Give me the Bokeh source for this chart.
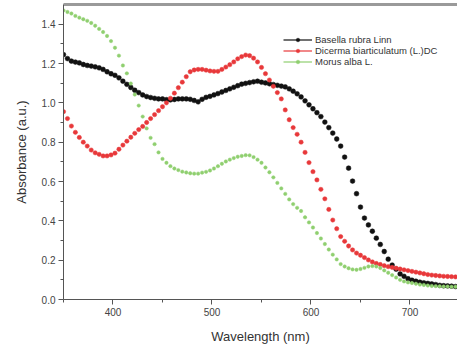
from bokeh.plotting import figure
from bokeh.models import (ColumnDataSource, Legend, LegendItem, LinearAxis, Range1d,
                          FixedTicker, CustomJSTickFormatter)
from bokeh.embed import file_html
from bokeh.resources import INLINE

wavelength = list(range(350, 751, 4))

basella = [1.245, 1.225, 1.212, 1.207, 1.203, 1.195, 1.19, 1.187, 1.183, 1.178,
           1.17, 1.158, 1.148, 1.14, 1.127, 1.11, 1.094, 1.078, 1.064, 1.052,
           1.04, 1.032, 1.027, 1.023, 1.02, 1.02, 1.016, 1.015, 1.017, 1.02,
           1.02, 1.02, 1.018, 1.012, 1.005, 1.018, 1.028, 1.033, 1.04, 1.047,
           1.055, 1.063, 1.071, 1.079, 1.087, 1.095, 1.099, 1.103, 1.107, 1.11,
           1.105, 1.101, 1.097, 1.093, 1.089, 1.085, 1.081, 1.071, 1.059, 1.046,
           1.03, 1.01, 0.99, 0.97, 0.95, 0.93, 0.902, 0.874, 0.846, 0.816,
           0.78, 0.724, 0.668, 0.602, 0.538, 0.47, 0.414, 0.379, 0.347, 0.312,
           0.28, 0.244, 0.205, 0.175, 0.154, 0.13, 0.118, 0.106, 0.098, 0.093,
           0.088, 0.085, 0.082, 0.079, 0.076, 0.072, 0.07, 0.069, 0.068, 0.066,
           0.065]

dicerma = [0.955, 0.92, 0.882, 0.85, 0.824, 0.80, 0.78, 0.76, 0.746, 0.738,
           0.73, 0.73, 0.735, 0.744, 0.764, 0.785, 0.805, 0.825, 0.845, 0.864,
           0.88, 0.90, 0.92, 0.94, 0.96, 0.98, 1.0, 1.023, 1.049, 1.077,
           1.105, 1.133, 1.158, 1.167, 1.17, 1.17, 1.166, 1.162, 1.16, 1.16,
           1.17, 1.182, 1.194, 1.208, 1.224, 1.235, 1.243, 1.24, 1.227, 1.208,
           1.18, 1.148, 1.116, 1.084, 1.052, 1.02, 0.964, 0.914, 0.874, 0.84,
           0.80, 0.748, 0.696, 0.65, 0.608, 0.56, 0.512, 0.458, 0.404, 0.36,
           0.32, 0.296, 0.272, 0.252, 0.236, 0.225, 0.213, 0.201, 0.191, 0.183,
           0.178, 0.172, 0.167, 0.163, 0.159, 0.155, 0.151, 0.147, 0.143, 0.139,
           0.135, 0.131, 0.127, 0.124, 0.122, 0.12, 0.118, 0.117, 0.116, 0.115,
           0.114]

morus = [1.47, 1.462, 1.454, 1.442, 1.433, 1.425, 1.417, 1.406, 1.392, 1.376,
         1.36, 1.34, 1.314, 1.28, 1.24, 1.19, 1.15, 1.098, 1.042, 0.986,
         0.93, 0.87, 0.822, 0.79, 0.748, 0.715, 0.695, 0.678, 0.666, 0.658,
         0.65, 0.646, 0.642, 0.64, 0.64, 0.645, 0.649, 0.656, 0.666, 0.678,
         0.69, 0.702, 0.711, 0.719, 0.726, 0.73, 0.734, 0.733, 0.724, 0.711,
         0.695, 0.671, 0.647, 0.621, 0.593, 0.565, 0.537, 0.509, 0.485, 0.466,
         0.45, 0.418, 0.392, 0.366, 0.338, 0.31, 0.282, 0.254, 0.228, 0.204,
         0.18, 0.168, 0.159, 0.153, 0.151, 0.155, 0.161, 0.168, 0.17, 0.168,
         0.16, 0.148, 0.136, 0.124, 0.112, 0.1, 0.092, 0.087, 0.084, 0.08,
         0.076, 0.074, 0.071, 0.069, 0.068, 0.067, 0.066, 0.066, 0.065, 0.065,
         0.065]

names = ["Basella rubra Linn", "Dicerma biarticulatum (L.)DC", "Morus alba L."]
colors = ["#111111", "#e8383a", "#8fcf6f"]
sizes = [4.8, 4.3, 3.4]
x_ticks = [400, 500, 600, 700]
x_minor = [350, 450, 550, 650, 750]
y_ticks = [0.0, 0.2, 0.4, 0.6, 0.8, 1.0, 1.2, 1.4]
y_minor = [0.1, 0.3, 0.5, 0.7, 0.9, 1.1, 1.3]

FONT = "Liberation Sans"
TXT = "#444444"

p = figure(width=457, height=346, output_backend="svg", toolbar_location=None,
           x_range=Range1d(350, 748), y_range=Range1d(0, 1.5),
           min_border_left=63, min_border_right=0, min_border_top=4, min_border_bottom=45)
p.outline_line_color = None
p.grid.visible = False
p.background_fill_color = "white"

for ax in (p.xaxis[0], p.yaxis[0]):
    ax.axis_line_color = "#555555"
    ax.major_tick_line_color = "#555555"
    ax.minor_tick_line_color = "#555555"
    ax.major_tick_out = 5
    ax.major_tick_in = 0
    ax.minor_tick_out = 3
    ax.minor_tick_in = 0
    ax.major_label_text_font = FONT
    ax.major_label_text_font_size = "10px"
    ax.major_label_text_color = TXT
    ax.axis_label_text_font = FONT
    ax.axis_label_text_font_size = "13px"
    ax.axis_label_text_font_style = "normal"
    ax.axis_label_text_color = "#333333"

p.xaxis.ticker = FixedTicker(ticks=x_ticks, minor_ticks=x_minor)
p.yaxis.ticker = FixedTicker(ticks=y_ticks, minor_ticks=y_minor)
p.yaxis.formatter = CustomJSTickFormatter(code="return tick.toFixed(1);")
p.xaxis.axis_label = "Wavelength (nm)"
p.yaxis.axis_label = "Absorbance (a.u.)"
p.xaxis.axis_label_standoff = 10
p.yaxis.axis_label_standoff = 10
p.xaxis.major_label_standoff = 3
p.yaxis.major_label_standoff = 3

top = LinearAxis(ticker=FixedTicker(ticks=[]), major_label_text_font_size="0px",
                 axis_line_color="#9a9a9a", axis_line_width=3,
                 major_tick_line_color=None, minor_tick_line_color=None)
p.add_layout(top, "above")

nan = float("nan")
items = []
for ys, name, c, s in zip([basella, dicerma, morus], names, colors, sizes):
    src = ColumnDataSource(dict(x=wavelength, y=ys))
    r = p.scatter("x", "y", source=src, size=s, fill_color=c, line_color=c, line_alpha=0.5)
    dummy = p.line(x=[nan, nan], y=[nan, nan], line_color=c, line_width=1.2)
    items.append(LegendItem(label=name, renderers=[dummy, r]))

legend = Legend(items=items, location=(220, 232))
legend.background_fill_alpha = 0
legend.border_line_color = None
legend.label_text_font = FONT
legend.label_text_font_size = "9.5px"
legend.label_text_color = "#333333"
legend.glyph_height = 9
legend.glyph_width = 29
legend.label_height = 9
legend.spacing = 0
legend.padding = 0
legend.margin = 0
legend.label_standoff = 3
p.add_layout(legend)

open("out.html", "w").write(file_html(p, INLINE))
